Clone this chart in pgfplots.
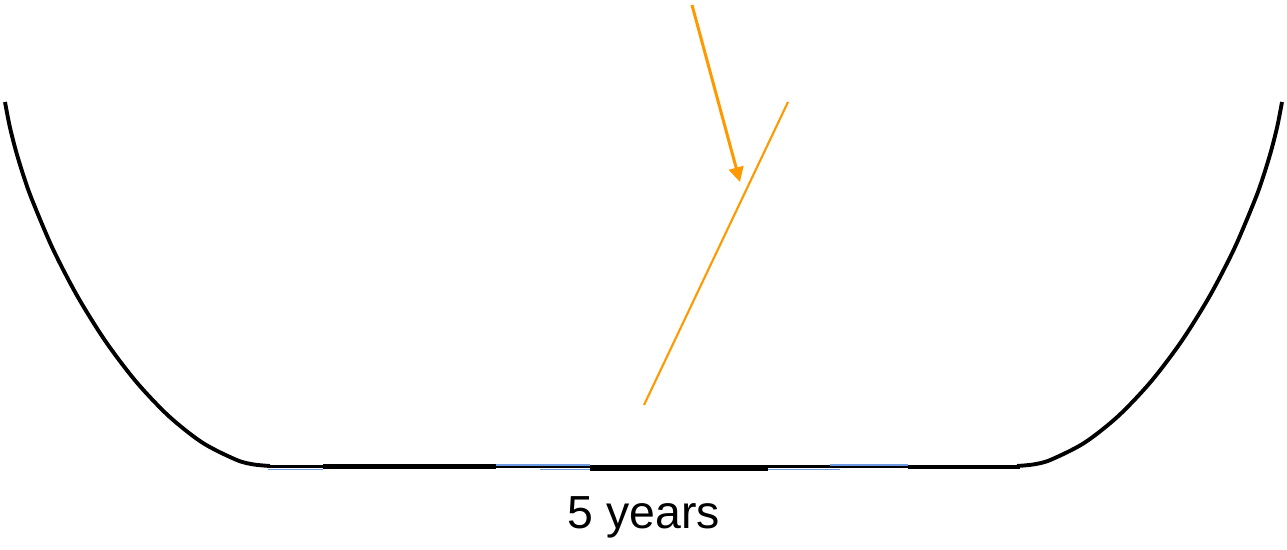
\documentclass[border=0pt]{standalone}
\usepackage{pgfplots}
\pgfplotsset{compat=1.18}
\usepackage{fontspec}
\setmainfont{Liberation Sans}
\usetikzlibrary{arrows.meta}
\definecolor{curveorange}{RGB}{255,153,0}
\definecolor{lineblue}{RGB}{110,155,225}
\begin{document}
\begin{tikzpicture}
\begin{axis}[
  width=12.87cm, height=5.38cm, scale only axis,
  xmin=0, xmax=1287, ymin=0, ymax=538,
  hide axis, clip=false,
]
\path (rel axis cs:0,0) rectangle (rel axis cs:1,1);
% left curve
\addplot[black, line width=1.1pt, smooth] coordinates {
 (5,436) (9.5,412.6) (15.5,388.6) (22.9,364.1) (31.6,339.4) (52.5,289.9) (77.4,241.8) (105.6,196.6) (136.4,156) (169,121.7) (202.6,95.2) (236.5,78.1) (253.4,73.6) (270,72)
};
% right curve
\addplot[black, line width=1.1pt, smooth] coordinates {
 (1017,72) (1033.6,73.6) (1050.5,78.1) (1084.4,95.2) (1118,121.7) (1150.6,156) (1181.4,196.6) (1209.6,241.8) (1234.5,289.9) (1255.4,339.4) (1264.1,364.1) (1271.5,388.6) (1277.5,412.6) (1282,436)
};
% flat bottom
\addplot[black, line width=0.85pt] coordinates {(268,71.5) (1020,71.5)};
\addplot[black, line width=1.25pt] coordinates {(323,71.5) (496,71.5)};
\addplot[black, line width=1.4pt] coordinates {(590,69.5) (768,69.5)};
\addplot[black, line width=1.15pt] coordinates {(908,71) (1020,71)};
\addplot[lineblue, line width=0.4pt] coordinates {(268,68.8) (323,68.8)};
\addplot[lineblue, line width=0.4pt] coordinates {(496,73.2) (590,73.2)};
\addplot[lineblue, line width=0.4pt] coordinates {(540,68.5) (590,68.5)};
\addplot[lineblue, line width=0.4pt] coordinates {(768,68.3) (840,68.3)};
\addplot[lineblue, line width=0.4pt] coordinates {(830,73.2) (908,73.2)};
% orange line
\addplot[curveorange, line width=0.6pt] coordinates {(644,133) (788,436)};
% orange arrow
\addplot[curveorange, line width=0.85pt, -{Triangle[length=4.2pt, width=4.2pt]}] coordinates {(692,533) (740,356)};
\node[anchor=base, font=\fontsize{13.2}{15}\selectfont] at (axis cs:644,10) {5 years};
\end{axis}
\end{tikzpicture}
\end{document}
